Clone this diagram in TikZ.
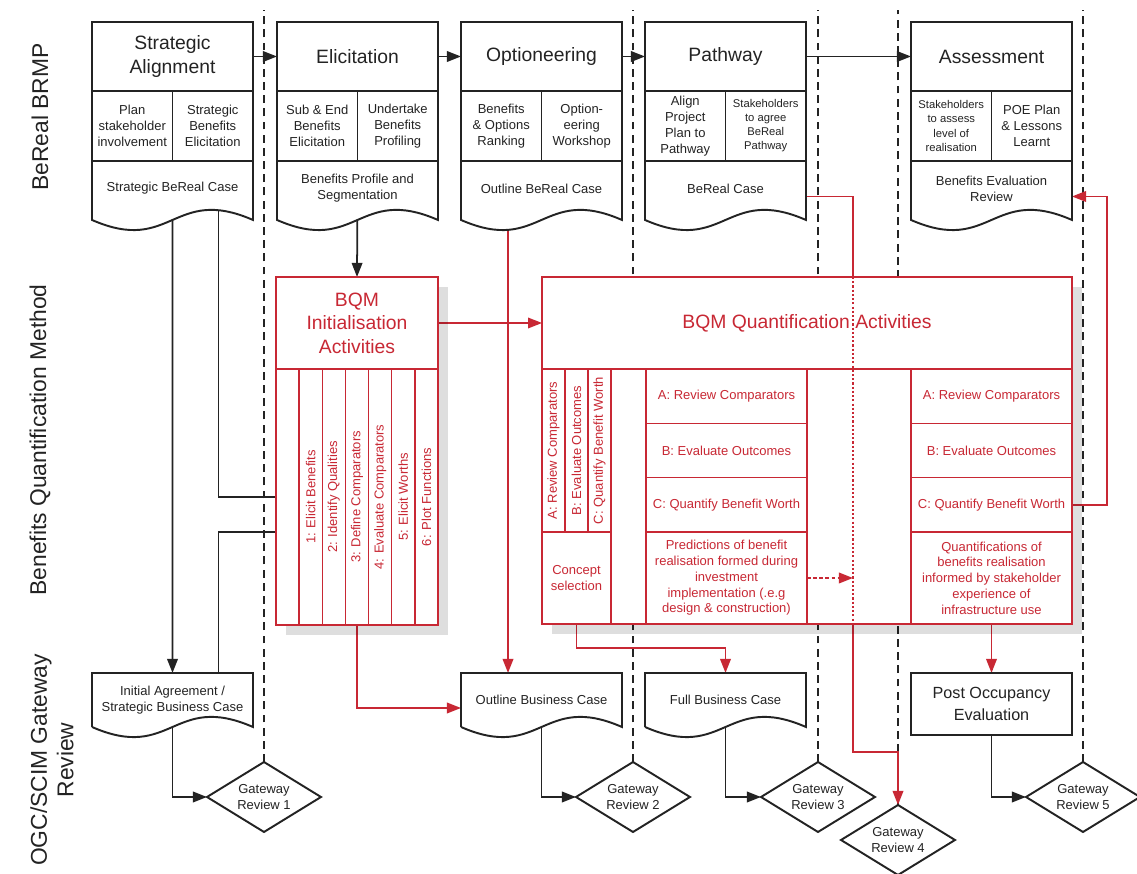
\documentclass[tikz,border=0pt]{standalone}
\usepackage{fontspec}
\setmainfont{Liberation Sans}
\usetikzlibrary{arrows.meta,positioning,shapes.geometric,shadows,calc}
\definecolor{ink}{RGB}{35,35,35}
\definecolor{bqmred}{RGB}{200,40,52}
\pgfdeclarelayer{bg}
\pgfdeclarelayer{docs}
\pgfsetlayers{bg,docs,main}

\begin{document}
\begin{tikzpicture}[x=0.02cm,y=-0.02cm,>={Triangle[length=8pt,width=6pt]},
                    inner sep=0pt,outer sep=0pt,align=center,text=ink,
                    font=\fontsize{7.4}{9}\selectfont]
  \tikzstyle{lanelab}=[rotate=90,font=\fontsize{13}{15}\selectfont]
  \tikzstyle{phase}=[draw=ink,line width=1.1pt,minimum width=3.22cm,minimum height=1.38cm,font=\fontsize{11}{14}\selectfont]
  \tikzstyle{task}=[draw=ink,line width=1.1pt,minimum width=1.61cm,minimum height=1.4cm]
  \tikzstyle{small task}=[task,font=\fontsize{6.4}{8}\selectfont]
  \tikzstyle{doctext}=[anchor=north,minimum width=3.22cm,minimum height=1.1cm]
  \tikzstyle{docline}=[draw=ink,line width=1.1pt,fill=white]
  \tikzstyle{bdoc}=[minimum width=3.22cm,minimum height=1.08cm]
  \tikzstyle{poebox}=[draw=ink,line width=1.1pt,fill=white,minimum width=3.22cm,minimum height=1.24cm,font=\fontsize{9.2}{12.5}\selectfont]
  \tikzstyle{gate}=[diamond,draw=ink,line width=1.1pt,fill=white,aspect=1.63,minimum width=2.28cm,minimum height=1.4cm]
  \tikzstyle{ibox}=[draw=bqmred,line width=0.85pt,fill=white,general shadow={fill=black,fill opacity=0.13,shadow xshift=0.2cm,shadow yshift=-0.2cm}]
  \tikzstyle{ititle}=[draw=bqmred,line width=0.85pt,text=bqmred,minimum height=1.84cm,font=\fontsize{11}{13.3}\selectfont]
  \tikzstyle{icol}=[draw=bqmred,line width=0.85pt,text=bqmred,minimum width=0.463cm,minimum height=5.12cm]
  \tikzstyle{qcell}=[draw=bqmred,line width=0.85pt,text=bqmred]
  \tikzstyle{qrot}=[qcell,minimum width=0.46cm,minimum height=3.26cm]
  \tikzstyle{qrow}=[qcell,minimum width=3.22cm,minimum height=1.087cm]
  \tikzstyle{qbig}=[qcell,minimum width=3.22cm,minimum height=1.84cm]
  \tikzstyle{flow}=[draw=ink,line width=1pt,->]
  \tikzstyle{rline}=[draw=bqmred,line width=1pt]
  \tikzstyle{rflow}=[rline,->]
  \tikzstyle{lane}=[draw=ink,line width=0.6pt,dash pattern=on 4.5pt off 3pt]

  \useasboundingbox (0,0) rectangle (1137,874);

  % swimlane titles
  \node[lanelab] (brmp) at (40,117) {BeReal BRMP};
  \node[lanelab] (bqm)  at (40,440) {Benefits Quantification Method};
  \node[lanelab] (ogc)  at (52,760) {OGC/SCIM Gateway\\Review};

  % BeReal BRMP phases
  \node[phase] (sa) at (172.5,56.5) {Strategic\\Alignment};
  \node[phase] (el) at (357.5,56.5) {Elicitation};
  \node[phase] (op) at (541.5,56.5) {Optioneering};
  \node[phase] (pw) at (725.5,56.5) {Pathway};
  \node[phase] (as) at (991.5,56.5) {Assessment};

  \node[task,anchor=north west] (sa1) at (sa.south west) {Plan\\stakeholder\\involvement};
  \node[task,anchor=north east] (sa2) at (sa.south east) {Strategic\\Benefits\\Elicitation};
  \node[task,anchor=north west] (el1) at (el.south west) {Sub \& End\\Benefits\\Elicitation};
  \node[task,anchor=north east] (el2) at (el.south east) {Undertake\\Benefits\\Profiling};
  \node[task,anchor=north west] (op1) at (op.south west) {Benefits\\\& Options\\Ranking};
  \node[task,anchor=north east] (op2) at (op.south east) {Option-\\eering\\Workshop};
  \node[task,anchor=north west] (pw1) at (pw.south west) {Align\\Project\\Plan to\\Pathway};
  \node[small task,anchor=north east] (pw2) at (pw.south east) {Stakeholders\\to agree\\BeReal\\Pathway};
  \node[small task,anchor=north west] (as1) at (as.south west) {Stakeholders\\to assess\\level of\\realisation};
  \node[task,anchor=north east] (as2) at (as.south east) {POE Plan\\\& Lessons\\Learnt};

  \begin{pgfonlayer}{docs}
    \foreach \p in {sa,el,op,pw,as}
      \draw[docline] (\p1.south west) -- ++(0,59)
        .. controls +(80,35) and +(-80,-35) .. ($(\p2.south east)+(0,59)$) -- (\p2.south east);
  \end{pgfonlayer}

  \node[doctext] (sacase) at (sa1.south east) {Strategic BeReal Case};
  \node[doctext] (elcase) at (el1.south east) {Benefits Profile and\\Segmentation};
  \node[doctext] (opcase) at (op1.south east) {Outline BeReal Case};
  \node[doctext] (pwcase) at (pw1.south east) {BeReal Case};
  \node[doctext] (ascase) at (as1.south east) {Benefits Evaluation\\Review};

  % BQM initialisation
  \node[ibox,minimum width=3.24cm,minimum height=6.96cm] (initbox) at (357,451) {};
  \node[ititle,minimum width=3.24cm] (ini) at (357,323) {BQM\\Initialisation\\Activities};
  \foreach \lab [count=\k from 0] in {{},1: Elicit Benefits,2: Identify Qualities,3: Define Comparators,4: Evaluate Comparators,5: Elicit Worths,6: Plot Functions}
    \node[icol] (c\k) at ({287.57+23.143*\k},497) {\rotatebox{90}{\lab}};

  % BQM quantification
  \node[ibox,minimum width=10.6cm,minimum height=6.94cm] (bqbox) at (807,450.5) {};
  \node[ititle,minimum width=10.6cm] (bq) at (807,323) {BQM Quantification Activities};
  \node[qrot] (qa) at (553.5,450.5) {\rotatebox{90}{A: Review Comparators}};
  \node[qrot] (qb) at (576.5,450.5) {\rotatebox{90}{B: Evaluate Outcomes}};
  \node[qrot] (qc) at (599.5,450.5) {\rotatebox{90}{C: Quantify Benefit Worth}};
  \node[qcell,minimum width=1.38cm,minimum height=1.84cm] (cs) at (576.5,578) {Concept\\selection};
  \node[qcell,minimum width=0.7cm,minimum height=5.1cm] (qgap) at (628.5,496.5) {};
  \node[qrow] (qa1) at (726.5,396.2) {A: Review Comparators};
  \node[qrow] (qb1) at (726.5,450.5) {B: Evaluate Outcomes};
  \node[qrow] (qc1) at (726.5,504.8) {C: Quantify Benefit Worth};
  \node[qbig] (qd1) at (726.5,578) {Predictions of benefit\\realisation formed during\\investment\\implementation (.e.g\\design \& construction)};
  \node[qrow] (qa2) at (991.5,396.2) {A: Review Comparators};
  \node[qrow] (qb2) at (991.5,450.5) {B: Evaluate Outcomes};
  \node[qrow] (qc2) at (991.5,504.8) {C: Quantify Benefit Worth};
  \node[qbig] (qd2) at (991.5,578) {Quantifications of\\benefits realisation\\informed by stakeholder\\experience of\\infrastructure use};

  \coordinate (cross) at (853,0);
  \draw[rline,dash pattern=on 1.2pt off 1.2pt] (cross |- bqbox.north) -- (cross |- bqbox.south);
  \draw[rflow,dash pattern=on 2pt off 1.5pt] (qd1.east) -- (cross |- qd1.east);

  % OGC/SCIM gateway review
  \node[bdoc] (ia)  at (172.5,700) {Initial Agreement /\\Strategic Business Case};
  \node[bdoc] (obc) at (541.5,700) {Outline Business Case};
  \node[bdoc] (fbc) at (725.5,700) {Full Business Case};
  \node[poebox] (poe) at (991.5,704) {Post Occupancy\\Evaluation};

  \begin{pgfonlayer}{docs}
    \foreach \d in {ia,obc,fbc}
      \draw[docline] (\d.south west) -- (\d.north west) -- (\d.north east) -- (\d.south east)
        .. controls +(-80,-35) and +(80,35) .. (\d.south west);
  \end{pgfonlayer}

  \node[gate] (gr1) at (264,797) {Gateway\\Review 1};
  \node[gate] (gr2) at (633,797) {Gateway\\Review 2};
  \node[gate] (gr3) at (818,797) {Gateway\\Review 3};
  \node[gate] (gr4) at (898,840) {Gateway\\Review 4};
  \node[gate] (gr5) at (1083,797) {Gateway\\Review 5};

  \begin{pgfonlayer}{bg}
    \coordinate (lanetop) at (0,10);
    \foreach \g in {gr1,gr2,gr3,gr4,gr5}
      \draw[lane] (\g.north) -- (\g.north |- lanetop);

    \path (sa) edge[flow] (el)
          (el) edge[flow] (op)
          (op) edge[flow] (pw)
          (pw) edge[flow] (as)
          (sacase.center) edge[flow] (ia.north)
          (elcase.center) edge[flow] (ini.north);
    \draw[flow] ($(sacase.center)+(46,0)$) |- (c1.west);
    \draw[flow] ($(ia.center)+(46,0)$) |- ($(c1.west)+(0,35)$);
    \draw[flow] (ia.center) |- (gr1.west);
    \draw[flow] (obc.center) |- (gr2.west);
    \draw[flow] (fbc.center) |- (gr3.west);
    \draw[flow] (poe.center) |- (gr5.west);

    \draw[rflow] (ini) -- (bq);
    \coordinate (opdrop) at ($(opcase.center)+(-33.5,0)$);
    \draw[rflow] (opdrop) -- (opdrop |- obc.north);
    \draw[rflow] (initbox.south) |- ($(obc.west)+(0,8)$);
    \draw[rflow] (cs.south) -- ++(0,24) -| (fbc.north);
    \draw[rflow] (qd2.south) -- (poe.north);
    \draw[rflow] (qc2.east) -- ++(35,0) |- ($(ascase.east)+(0,8)$);
    \draw[rline] ($(pwcase.east)+(0,8)$) -| (cross |- bqbox.north);
    \draw[rflow] (cross |- bqbox.south) -- ++(0,128) -| (gr4.north);
  \end{pgfonlayer}
\end{tikzpicture}
\end{document}
